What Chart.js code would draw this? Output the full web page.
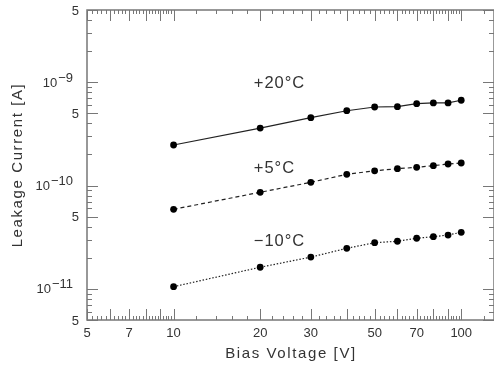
<!DOCTYPE html>
<html>
<head>
<meta charset="utf-8">
<script src="https://cdn.jsdelivr.net/npm/chart.js@4.4.1/dist/chart.umd.min.js"></script>
<style>
  html, body { margin: 0; padding: 0; background: #fff; overflow: hidden; }
  #wrap { width: 498px; height: 366px; }
</style>
</head>
<body>
<div id="wrap"><canvas id="leakage"></canvas></div>
<script>
// bias voltage [V]
const biasVoltage = [10, 20, 30, 40, 50, 60, 70, 80, 90, 100];
// leakage current [A] per temperature
const currentPlus20 = [2.47e-10, 3.60e-10, 4.54e-10, 5.30e-10, 5.76e-10, 5.80e-10, 6.20e-10, 6.30e-10, 6.30e-10, 6.69e-10];
const currentPlus5 = [5.89e-11, 8.61e-11, 1.075e-10, 1.285e-10, 1.39e-10, 1.456e-10, 1.50e-10, 1.557e-10, 1.617e-10, 1.653e-10];
const currentMinus10 = [1.05e-11, 1.62e-11, 2.03e-11, 2.47e-11, 2.80e-11, 2.89e-11, 3.09e-11, 3.20e-11, 3.32e-11, 3.53e-11];

const xTickValues = [5, 7, 10, 20, 30, 50, 70, 100];
const yTickValues = [5e-12, 1e-11, 5e-11, 1e-10, 5e-10, 1e-9, 5e-9];
const yTickLabels = [['5'], ['10', '\u221211'], ['5'], ['10', '\u221210'], ['5'], ['10', '\u22129'], ['5']];

const seriesLabels = ['+20\u00b0C', '+5\u00b0C', '\u221210\u00b0C'];
const labelPos = [[19, 9.8e-10], [19, 1.48e-10], [19, 2.86e-11]];

const axisColor = '#777';
const textColor = '#333';
const font = '"Liberation Sans", Arial, sans-serif';

// log-axis tick marks: major at integer multiples of a decade, minor in between
function logTicks(min, max, minorStep) {
  const major = [], minor = [];
  for (let d = Math.pow(10, Math.floor(Math.log10(min))); d <= max; d *= 10) {
    for (let m = 1; m < 10; m++) {
      const v = m * d;
      if (v >= min * 0.999 && v <= max * 1.001) major.push(v);
      if (minorStep) {
        for (let k = 1; k * minorStep < 1 - 1e-9; k++) {
          const w = (m + k * minorStep) * d;
          if (w >= min && w <= max) minor.push(w);
        }
      }
    }
  }
  return { major, minor };
}

const framePlugin = {
  id: 'frame',
  afterDraw(chart) {
    const { ctx, chartArea: a, scales: { x, y } } = chart;
    ctx.save();
    ctx.strokeStyle = axisColor;
    ctx.lineWidth = 1.5;
    ctx.strokeRect(a.left, a.top, a.right - a.left, a.bottom - a.top);

    ctx.lineWidth = 1;
    const xt = logTicks(x.min, x.max, 0.2);
    const yt = logTicks(y.min, y.max, 0);
    const tick = (x1, y1, x2, y2) => {
      ctx.beginPath(); ctx.moveTo(x1, y1); ctx.lineTo(x2, y2); ctx.stroke();
    };
    xt.major.forEach(v => {
      const p = Math.round(x.getPixelForValue(v)) + 0.5;
      tick(p, a.bottom, p, a.bottom - 11); tick(p, a.top, p, a.top + 11);
    });
    xt.minor.forEach(v => {
      const p = Math.round(x.getPixelForValue(v)) + 0.5;
      tick(p, a.bottom, p, a.bottom - 4); tick(p, a.top, p, a.top + 4);
    });
    yt.major.forEach(v => {
      const p = Math.round(y.getPixelForValue(v)) + 0.5;
      const len = yTickValues.some(t => Math.abs(t / v - 1) < 1e-6) ? 11 : 5;
      tick(a.left, p, a.left + len, p); tick(a.right, p, a.right - len, p);
    });

    // y tick labels with exponents
    ctx.fillStyle = textColor;
    ctx.textBaseline = 'middle';
    ctx.font = '13px ' + font;
    yTickValues.forEach((v, i) => {
      const p = y.getPixelForValue(v);
      const lab = yTickLabels[i];
      ctx.textAlign = 'right';
      if (lab.length === 1) {
        ctx.fillText(lab[0], a.left - 8, p + 1);
      } else {
        const right = a.left - 14;
        const ew = ctx.measureText(lab[1]).width;
        ctx.fillText(lab[1], right, p - 4);
        ctx.fillText(lab[0], right - ew - 1, p + 1);
      }
    });

    // axis titles
    ctx.font = '15px ' + font;
    ctx.letterSpacing = '1.6px';
    ctx.textAlign = 'center';
    ctx.fillText('Bias Voltage [V]', 291, 354);
    ctx.save();
    ctx.translate(18, 165);
    ctx.rotate(-Math.PI / 2);
    ctx.fillText('Leakage Current [A]', 0, 0);
    ctx.restore();

    // temperature labels
    ctx.font = '16.5px ' + font;
    ctx.letterSpacing = '1px';
    ctx.textAlign = 'left';
    seriesLabels.forEach((s, i) => {
      ctx.fillText(s, x.getPixelForValue(labelPos[i][0]), y.getPixelForValue(labelPos[i][1]));
    });
    ctx.restore();
  }
};

const lineStyle = (data, dash) => ({
  data: biasVoltage.map((v, i) => ({ x: v, y: data[i] })),
  borderColor: '#222',
  backgroundColor: '#000',
  borderWidth: 1.2,
  borderDash: dash,
  pointRadius: 3.4,
  pointBorderWidth: 0,
  tension: 0
});

new Chart(document.getElementById('leakage'), {
  type: 'line',
  data: {
    datasets: [
      lineStyle(currentPlus20, []),
      lineStyle(currentPlus5, [4, 3]),
      lineStyle(currentMinus10, [1.5, 1.8])
    ]
  },
  options: {
    responsive: true,
    maintainAspectRatio: false,
    animation: false,
    layout: { padding: { top: 10, right: 0, left: 0, bottom: 0 } },
    plugins: { legend: { display: false }, tooltip: { enabled: false } },
    scales: {
      x: {
        type: 'logarithmic',
        min: 5,
        max: 130,
        afterBuildTicks: s => { s.ticks = xTickValues.map(v => ({ value: v })); },
        afterFit: s => { s.height = 46; },
        grid: { display: false, drawTicks: false },
        border: { display: false },
        ticks: {
          padding: 6,
          color: textColor,
          font: { family: font, size: 13 },
          maxRotation: 0,
          autoSkip: false,
          callback: v => String(v)
        }
      },
      y: {
        type: 'logarithmic',
        min: 5e-12,
        max: 5e-9,
        afterFit: s => { s.width = 87; },
        grid: { display: false, drawTicks: false },
        border: { display: false },
        ticks: { display: false }
      }
    }
  },
  plugins: [framePlugin]
});
</script>
</body>
</html>
